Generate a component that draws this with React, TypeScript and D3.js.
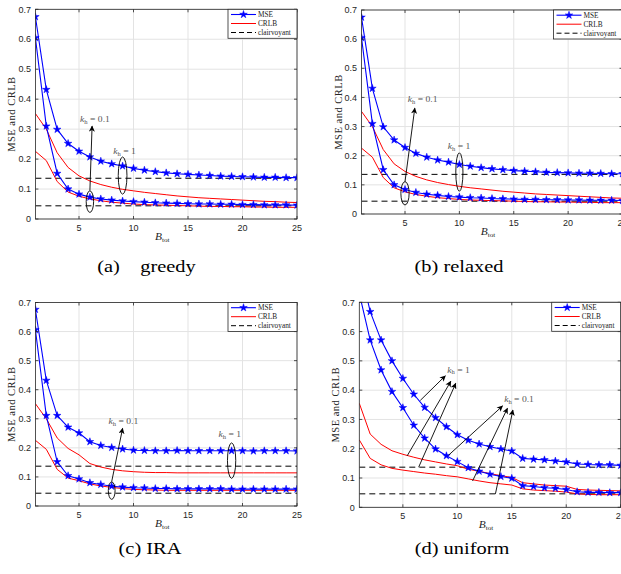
import React from 'react';
import * as d3 from 'd3';

const B_TOT = [1, 2, 3, 4, 5, 6, 7, 8, 9, 10, 11, 12, 13, 14, 15, 16, 17, 18, 19, 20, 21, 22, 23, 24, 25];
const X_TICKS = [5, 10, 15, 20, 25];
const Y_TICKS = [0, 0.1, 0.2, 0.3, 0.4, 0.5, 0.6, 0.7];
const Y_TICK_LABELS = ['0', '0.1', '0.2', '0.3', '0.4', '0.5', '0.6', '0.7'];
const LEGEND_LABELS = ['MSE', 'CRLB', 'clairvoyant'];
const CAPTIONS = ['(a)    greedy', '(b) relaxed', '(c) IRA', '(d) uniform'];
const Y_LABEL = 'MSE and CRLB';

// (a) greedy
const MSE_HIGH_A = [0.675, 0.432, 0.299, 0.252, 0.226, 0.207, 0.193, 0.184, 0.177, 0.169, 0.163, 0.158, 0.154, 0.151, 0.149, 0.147, 0.145, 0.143, 0.142, 0.141, 0.140, 0.139, 0.139, 0.138, 0.138];
const MSE_LOW_A = [0.605, 0.310, 0.152, 0.100, 0.083, 0.073, 0.067, 0.063, 0.060, 0.058, 0.056, 0.054, 0.053, 0.052, 0.051, 0.050, 0.050, 0.049, 0.049, 0.048, 0.048, 0.047, 0.047, 0.047, 0.046];
const CRLB_HIGH_A = [0.352, 0.300, 0.221, 0.172, 0.144, 0.127, 0.115, 0.106, 0.099, 0.094, 0.089, 0.085, 0.081, 0.077, 0.074, 0.071, 0.069, 0.067, 0.065, 0.063, 0.061, 0.059, 0.058, 0.056, 0.055];
const CRLB_LOW_A = [0.226, 0.195, 0.125, 0.090, 0.076, 0.067, 0.061, 0.056, 0.053, 0.050, 0.048, 0.047, 0.046, 0.045, 0.044, 0.043, 0.042, 0.042, 0.041, 0.041, 0.040, 0.040, 0.039, 0.039, 0.039];
const CLAIR_A = [0.136, 0.044];
const ELLIPSES_A = [{ cx: 6.0, cy: 0.058, rx: 0.34, ry: 0.036 }, { cx: 9.0, cy: 0.145, rx: 0.4, ry: 0.062 }];
const ARROWS_A = [{ x1: 6.0, y1: 0.095, x2: 6.2, y2: 0.31 }];
const LABELS_A = [{ x: 5.1, y: 0.324, v: '0.1' }, { x: 8.15, y: 0.217, v: '1' }];

// (b) relaxed
const MSE_HIGH_B = [0.675, 0.431, 0.299, 0.254, 0.228, 0.208, 0.195, 0.185, 0.178, 0.170, 0.164, 0.159, 0.155, 0.152, 0.149, 0.147, 0.145, 0.143, 0.142, 0.141, 0.140, 0.140, 0.139, 0.138, 0.138];
const MSE_LOW_B = [0.605, 0.310, 0.152, 0.100, 0.084, 0.074, 0.068, 0.064, 0.060, 0.058, 0.056, 0.055, 0.053, 0.052, 0.051, 0.050, 0.050, 0.049, 0.049, 0.048, 0.048, 0.047, 0.047, 0.047, 0.046];
const CRLB_HIGH_B = [0.352, 0.300, 0.221, 0.172, 0.146, 0.129, 0.117, 0.108, 0.101, 0.095, 0.090, 0.086, 0.082, 0.078, 0.075, 0.072, 0.069, 0.067, 0.065, 0.063, 0.061, 0.059, 0.057, 0.055, 0.054];
const CRLB_LOW_B = [0.226, 0.195, 0.125, 0.090, 0.076, 0.067, 0.061, 0.056, 0.053, 0.050, 0.048, 0.047, 0.046, 0.045, 0.044, 0.043, 0.042, 0.042, 0.041, 0.041, 0.040, 0.040, 0.039, 0.039, 0.039];
const CLAIR_B = [0.136, 0.044];
const ELLIPSES_B = [{ cx: 5.0, cy: 0.071, rx: 0.38, ry: 0.04 }, { cx: 10.0, cy: 0.144, rx: 0.33, ry: 0.066 }];
const ARROWS_B = [{ x1: 5.0, y1: 0.111, x2: 5.9, y2: 0.363 }];
const LABELS_B = [{ x: 5.25, y: 0.385, v: '0.1' }, { x: 8.93, y: 0.223, v: '1' }];

// (c) IRA
const MSE_HIGH_C = [0.676, 0.432, 0.311, 0.271, 0.251, 0.221, 0.208, 0.201, 0.196, 0.192, 0.191, 0.190, 0.190, 0.191, 0.190, 0.190, 0.190, 0.190, 0.190, 0.190, 0.189, 0.190, 0.190, 0.190, 0.189];
const MSE_LOW_C = [0.606, 0.311, 0.152, 0.104, 0.093, 0.080, 0.074, 0.068, 0.065, 0.063, 0.062, 0.060, 0.060, 0.059, 0.059, 0.059, 0.059, 0.059, 0.058, 0.058, 0.058, 0.058, 0.058, 0.058, 0.058];
const CRLB_HIGH_C = [0.352, 0.300, 0.234, 0.198, 0.176, 0.146, 0.134, 0.126, 0.121, 0.118, 0.116, 0.115, 0.115, 0.114, 0.114, 0.114, 0.114, 0.114, 0.114, 0.114, 0.114, 0.114, 0.114, 0.114, 0.114];
const CRLB_LOW_C = [0.226, 0.195, 0.126, 0.096, 0.087, 0.076, 0.069, 0.064, 0.060, 0.057, 0.056, 0.055, 0.054, 0.054, 0.054, 0.054, 0.054, 0.054, 0.054, 0.054, 0.054, 0.054, 0.054, 0.054, 0.054];
const CLAIR_C = [0.137, 0.044];
const ELLIPSES_C = [{ cx: 8.0, cy: 0.053, rx: 0.31, ry: 0.03 }, { cx: 19.0, cy: 0.156, rx: 0.38, ry: 0.061 }];
const ARROWS_C = [{ x1: 8.0, y1: 0.084, x2: 9.0, y2: 0.267 }];
const LABELS_C = [{ x: 7.7, y: 0.283, v: '0.1' }, { x: 17.8, y: 0.238, v: '1' }];

// (d) uniform
const MSE_HIGH_D = [0.83, 0.668, 0.571, 0.500, 0.440, 0.386, 0.341, 0.306, 0.275, 0.248, 0.229, 0.216, 0.207, 0.199, 0.192, 0.167, 0.164, 0.162, 0.158, 0.155, 0.148, 0.146, 0.145, 0.145, 0.143];
const MSE_LOW_D = [0.73, 0.571, 0.469, 0.395, 0.340, 0.280, 0.236, 0.199, 0.176, 0.156, 0.135, 0.123, 0.113, 0.105, 0.099, 0.074, 0.071, 0.067, 0.065, 0.061, 0.053, 0.051, 0.051, 0.050, 0.050];
const CRLB_HIGH_D = [0.355, 0.250, 0.215, 0.193, 0.181, 0.171, 0.162, 0.155, 0.148, 0.142, 0.130, 0.123, 0.115, 0.108, 0.102, 0.084, 0.080, 0.076, 0.074, 0.072, 0.061, 0.059, 0.058, 0.057, 0.056];
const CRLB_LOW_D = [0.230, 0.167, 0.145, 0.133, 0.127, 0.122, 0.117, 0.113, 0.108, 0.104, 0.097, 0.090, 0.084, 0.080, 0.076, 0.063, 0.059, 0.057, 0.055, 0.052, 0.046, 0.044, 0.043, 0.043, 0.043];
const CLAIR_D = [0.137, 0.046];
const ELLIPSES_D: { cx: number; cy: number; rx: number; ry: number }[] = [];
const ARROWS_D = [
  { x1: 6.6, y1: 0.365, x2: 8.9, y2: 0.449 },
  { x1: 5.4, y1: 0.176, x2: 9.4, y2: 0.43 },
  { x1: 6.45, y1: 0.137, x2: 9.85, y2: 0.423 },
  { x1: 9.2, y1: 0.178, x2: 14.15, y2: 0.346 },
  { x1: 11.4, y1: 0.09, x2: 14.6, y2: 0.338 },
  { x1: 13.5, y1: 0.046, x2: 15.1, y2: 0.332 },
];
const LABELS_D = [{ x: 9.07, y: 0.46, v: '1' }, { x: 14.3, y: 0.358, v: '0.1' }];

const PANEL_DATA = [
  { mse: [MSE_HIGH_A, MSE_LOW_A], crlb: [CRLB_HIGH_A, CRLB_LOW_A], clair: CLAIR_A, ellipses: ELLIPSES_A, arrows: ARROWS_A, labels: LABELS_A },
  { mse: [MSE_HIGH_B, MSE_LOW_B], crlb: [CRLB_HIGH_B, CRLB_LOW_B], clair: CLAIR_B, ellipses: ELLIPSES_B, arrows: ARROWS_B, labels: LABELS_B },
  { mse: [MSE_HIGH_C, MSE_LOW_C], crlb: [CRLB_HIGH_C, CRLB_LOW_C], clair: CLAIR_C, ellipses: ELLIPSES_C, arrows: ARROWS_C, labels: LABELS_C },
  { mse: [MSE_HIGH_D, MSE_LOW_D], crlb: [CRLB_HIGH_D, CRLB_LOW_D], clair: CLAIR_D, ellipses: ELLIPSES_D, arrows: ARROWS_D, labels: LABELS_D },
];

const LAYOUT = [
  { left: 35.4, right: 297, top: 9.3, bottom: 219, capX: 146.5, capY: 272 },
  { left: 361.5, right: 622.5, top: 10, bottom: 214, capX: 459, capY: 272 },
  { left: 35.4, right: 297, top: 302.5, bottom: 506, capX: 150, capY: 554 },
  { left: 359.3, right: 620.7, top: 302.3, bottom: 507.3, capX: 462, capY: 554 },
];

const AXIS_COLOR = '#262626';
const SX = 1.2;

function Panel({ idx }: { idx: number }) {
  const d = PANEL_DATA[idx];
  const L = LAYOUT[idx];
  const x = d3.scaleLinear().domain([1, 25]).range([L.left, L.right]);
  const y = d3.scaleLinear().domain([0, 0.7]).range([L.bottom, L.top]);
  const line = d3.line<number>().x((_, i) => x(B_TOT[i])).y((v) => y(v));
  const star = d3.symbol().type(d3.symbolStar).size(18)() as string;
  const clipId = `clip-${idx}`;
  const legW = 69;
  const legH = 29;
  const legX = L.right - legW;
  const legY = L.top;

  return (
    <g>
      <defs>
        <clipPath id={clipId}>
          <rect x={L.left} y={L.top} width={L.right - L.left} height={L.bottom - L.top} />
        </clipPath>
      </defs>
      <rect x={L.left} y={L.top} width={L.right - L.left} height={L.bottom - L.top} fill="white" />
      {X_TICKS.map((t) => (
        <line key={`gx${t}`} x1={x(t)} x2={x(t)} y1={L.top} y2={L.bottom} stroke="#e3e3e3" strokeWidth={1} />
      ))}
      {Y_TICKS.map((t) => (
        <line key={`gy${t}`} x1={L.left} x2={L.right} y1={y(t)} y2={y(t)} stroke="#e3e3e3" strokeWidth={1} />
      ))}
      <g clipPath={`url(#${clipId})`}>
        {d.clair.map((c, i) => (
          <line key={`cl${i}`} x1={x(1)} x2={x(25)} y1={y(c)} y2={y(c)} stroke="black" strokeWidth={1} strokeDasharray="6,4" />
        ))}
        {d.crlb.map((s, i) => (
          <path key={`cr${i}`} d={line(s) as string} fill="none" stroke="#ff0000" strokeWidth={1} />
        ))}
        {d.mse.map((s, i) => (
          <g key={`ms${i}`}>
            <path d={line(s) as string} fill="none" stroke="#0000ff" strokeWidth={1.1} />
            {s.map((v, j) => (
              <path key={j} d={star} transform={`translate(${x(B_TOT[j])},${y(v)})`} fill="#0000ff" stroke="#0000ff" strokeWidth={0.5} />
            ))}
          </g>
        ))}
        {d.ellipses.map((e, i) => (
          <ellipse key={`el${i}`} cx={x(e.cx)} cy={y(e.cy)} rx={x(e.cx + e.rx) - x(e.cx)} ry={y(0) - y(e.ry)} fill="none" stroke="black" strokeWidth={0.9} />
        ))}
        {d.arrows.map((a, i) => (
          <line key={`ar${i}`} x1={x(a.x1)} y1={y(a.y1)} x2={x(a.x2)} y2={y(a.y2)} stroke="black" strokeWidth={0.9} markerEnd="url(#arrowhead)" />
        ))}
      </g>
      {d.labels.map((lb, i) => (
        <text key={`lb${i}`} transform={`translate(${x(lb.x)},${y(lb.y)}) scale(${SX},1)`} fontFamily="Liberation Serif, serif" fontSize={8} fill="#555">
          <tspan fontStyle="italic">k</tspan>
          <tspan fontSize={5.5} dy={1.8}>h</tspan>
          <tspan dy={-1.8}>{` = ${lb.v}`}</tspan>
        </text>
      ))}
      <rect x={L.left} y={L.top} width={L.right - L.left} height={L.bottom - L.top} fill="none" stroke={AXIS_COLOR} strokeWidth={0.8} />
      {X_TICKS.map((t) => (
        <g key={`tx${t}`}>
          <line x1={x(t)} x2={x(t)} y1={L.bottom} y2={L.bottom - 3} stroke={AXIS_COLOR} strokeWidth={0.8} />
          <line x1={x(t)} x2={x(t)} y1={L.top} y2={L.top + 3} stroke={AXIS_COLOR} strokeWidth={0.8} />
          <text x={x(t)} y={L.bottom + 12} textAnchor="middle" fontFamily="Liberation Sans, Arial, sans-serif" fontSize={9} fill={AXIS_COLOR}>
            {t}
          </text>
        </g>
      ))}
      {Y_TICKS.map((t, i) => (
        <g key={`ty${t}`}>
          <line x1={L.left} x2={L.left + 3} y1={y(t)} y2={y(t)} stroke={AXIS_COLOR} strokeWidth={0.8} />
          <line x1={L.right} x2={L.right - 3} y1={y(t)} y2={y(t)} stroke={AXIS_COLOR} strokeWidth={0.8} />
          <text x={L.left - 4.5} y={y(t) + 3.2} textAnchor="end" fontFamily="Liberation Sans, Arial, sans-serif" fontSize={9} fill={AXIS_COLOR}>
            {Y_TICK_LABELS[i]}
          </text>
        </g>
      ))}
      <text transform={`translate(${(L.left + L.right) / 2 - 4},${L.bottom + 21}) scale(${SX},1)`} textAnchor="middle" fontFamily="Liberation Serif, serif" fontSize={9.5} fill={AXIS_COLOR}>
        <tspan fontStyle="italic">B</tspan>
        <tspan fontSize={6} dy={2}>tot</tspan>
      </text>
      <text transform={`translate(${L.left - 20},${(L.top + L.bottom) / 2}) rotate(-90)`} textAnchor="middle" fontFamily="Liberation Serif, serif" fontSize={10.5} letterSpacing={0.5} fill={AXIS_COLOR}>
        {Y_LABEL}
      </text>
      <rect x={legX} y={legY} width={legW} height={legH} fill="white" stroke={AXIS_COLOR} strokeWidth={0.8} />
      {LEGEND_LABELS.map((lab, i) => {
        const ly = legY + 5.2 + i * 9;
        return (
          <g key={lab}>
            {i === 0 && (
              <>
                <line x1={legX + 3} x2={legX + 28} y1={ly} y2={ly} stroke="#0000ff" strokeWidth={1.1} />
                <path d={star} transform={`translate(${legX + 15.5},${ly})`} fill="#0000ff" stroke="#0000ff" strokeWidth={0.5} />
              </>
            )}
            {i === 1 && <line x1={legX + 3} x2={legX + 28} y1={ly} y2={ly} stroke="#ff0000" strokeWidth={1} />}
            {i === 2 && <line x1={legX + 3} x2={legX + 28} y1={ly} y2={ly} stroke="black" strokeWidth={1} strokeDasharray="5,3" />}
            <text x={legX + 30} y={ly + 2.5} fontFamily="Liberation Serif, serif" fontSize={7.3} fill="#222">
              {lab}
            </text>
          </g>
        );
      })}
      <text transform={`translate(${L.capX},${L.capY}) scale(${SX},1)`} textAnchor="middle" fontFamily="Liberation Serif, serif" fontSize={17} fill="black" style={{ whiteSpace: 'pre' }}>
        {CAPTIONS[idx]}
      </text>
    </g>
  );
}

export default function App() {
  return (
    <svg width={621} height={574} style={{ position: 'absolute', left: 0, top: 0, background: 'white' }}>
      <defs>
        <marker id="arrowhead" viewBox="0 0 10 10" refX={9} refY={5} markerWidth={7} markerHeight={6} markerUnits="userSpaceOnUse" orient="auto">
          <path d="M0,0 L10,5 L0,10 L2.5,5 z" fill="black" />
        </marker>
      </defs>
      <rect x={0} y={0} width={621} height={574} fill="white" />
      {[0, 1, 2, 3].map((i) => (
        <Panel key={i} idx={i} />
      ))}
    </svg>
  );
}
